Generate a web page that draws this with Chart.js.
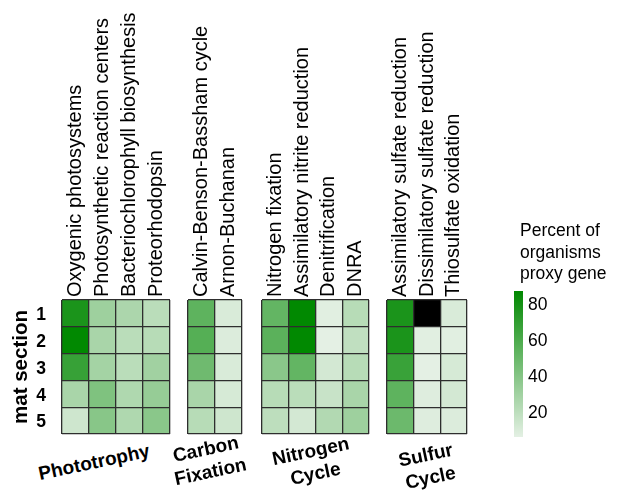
<!DOCTYPE html>
<html>
<head>
<meta charset="utf-8">
<script src="https://cdn.jsdelivr.net/npm/chart.js@4.4.0/dist/chart.umd.min.js"></script>
<style>
  body { margin: 0; background: #fff; width: 619px; height: 492px; overflow: hidden; position: relative;
         font-family: "Liberation Sans", Arial, sans-serif; }
  canvas { position: absolute; }
  .grp { position: absolute; font-weight: bold; font-size: 19px; line-height: 23px; text-align: center;
         white-space: nowrap; transform: translate(-50%, -50%) rotate(-12deg); color: #000; }
  .legend-title { position: absolute; left: 520px; top: 220px; font-size: 17.5px; line-height: 21.5px; color: #000; }
</style>
</head>
<body>
<canvas id="photo" width="172" height="436" style="left:0px;top:0px"></canvas>
<canvas id="carbon" width="58" height="436" style="left:186px;top:0px"></canvas>
<canvas id="nitrogen" width="111" height="436" style="left:260px;top:0px"></canvas>
<canvas id="sulfur" width="84" height="436" style="left:385px;top:0px"></canvas>
<canvas id="scalebar" width="100" height="166" style="left:514px;top:281px"></canvas>

<div class="grp" style="left:94px;top:462px">Phototrophy</div>
<div class="grp" style="left:208px;top:460px">Carbon<br>Fixation</div>
<div class="grp" style="left:313px;top:462px">Nitrogen<br>Cycle</div>
<div class="grp" style="left:428px;top:466px">Sulfur<br>Cycle</div>
<div class="legend-title">Percent of<br>organisms<br>proxy gene</div>

<script>
// Mat sections (rows, top to bottom)
const matSections = ['1', '2', '3', '4', '5'];

// Percent of organisms carrying each proxy gene; one row per mat section
const phototrophyGenes = ['Oxygenic photosystems', 'Photosynthetic reaction centers',
                          'Bacteriochlorophyll biosynthesis', 'Proteorhodopsin'];
const phototrophyPct = [
  [77, 30, 25, 20],
  [86, 26, 20, 21],
  [67, 28, 20, 29],
  [26, 41, 24, 33],
  [13, 38, 24, 37]
];

const carbonGenes = ['Calvin-Benson-Bassham cycle', 'Arnon-Buchanan'];
const carbonPct = [
  [53, 9],
  [56, 8],
  [47, 9],
  [26, 10],
  [21, 13]
];

const nitrogenGenes = ['Nitrogen fixation', 'Assimilatory nitrite reduction', 'Denitrification', 'DNRA'];
const nitrogenPct = [
  [51, 86, 6, 21],
  [54, 86, 5, 18],
  [37, 51, 11, 21],
  [21, 20, 15, 26],
  [19, 11, 23, 30]
];

// null = no value for that section (drawn black)
const sulfurGenes = ['Assimilatory sulfate reduction', 'Dissimilatory sulfate reduction', 'Thiosulfate oxidation'];
const sulfurPct = [
  [77, null, 9],
  [77, 6, 6],
  [66, 5, 10],
  [53, 7, 11],
  [48, 7, 8]
];

// Colour scale limits and tick marks
const scaleMin = 5;
const scaleMax = 86.5;
const scaleTicks = [20, 40, 60, 80];

const LOW = [228, 240, 228];
const HIGH = [0, 136, 0];
const FONT = '"Liberation Sans", Arial, sans-serif';
const GENE_FONT_SIZE = 20;

function colourFor(v) {
  if (v === null || v === undefined) return '#000000';
  let t = (v - scaleMin) / (scaleMax - scaleMin);
  t = Math.max(0, Math.min(1, t));
  const c = LOW.map((lo, i) => Math.round(lo + (HIGH[i] - lo) * t));
  return `rgb(${c[0]},${c[1]},${c[2]})`;
}

function makePanel(id, genes, pct, withRowAxis) {
  // each mat section is one stacked band of height 1; row 5 sits at the bottom
  const datasets = [];
  for (let r = pct.length - 1; r >= 0; r--) {
    datasets.push({
      label: 'section ' + matSections[r],
      data: genes.map(() => 1),
      backgroundColor: pct[r].map(colourFor),
      borderWidth: 0,
      barPercentage: 1,
      categoryPercentage: 1,
      yAxisID: 'y'
    });
  }
  const gridColor = '#2e2e2e';
  const scales = {
    x: {
      type: 'category',
      position: 'top',
      stacked: true,
      grid: { display: true, offset: true, color: gridColor, lineWidth: 1.3, drawTicks: false, z: 1 },
      border: { display: false },
      ticks: {
        autoSkip: false, minRotation: 90, maxRotation: 90, padding: 3,
        labelOffset: GENE_FONT_SIZE * 1.2,
        color: '#000', font: { family: FONT, size: GENE_FONT_SIZE }
      },
      afterFit: s => { s.height = 300; s.paddingLeft = 0; s.paddingRight = 0; }
    },
    y: {
      type: 'linear',
      stacked: true,
      min: 0, max: 5,
      position: 'left',
      grid: { display: true, color: gridColor, lineWidth: 1.3, drawTicks: false, z: 1 },
      border: { display: false },
      ticks: { display: false, stepSize: 1 },
      afterFit: s => { s.width = 0; s.paddingTop = 0; s.paddingBottom = 0; }
    }
  };
  if (withRowAxis) {
    scales.yl = {
      type: 'category',
      labels: matSections,
      offset: true,
      position: 'left',
      grid: { display: false, drawTicks: false },
      border: { display: false },
      ticks: { color: '#000', padding: 16, labelOffset: 2, font: { family: FONT, size: 17.5, weight: 'bold' } },
      title: {
        display: true, text: 'mat section', color: '#000',
        font: { family: FONT, size: 20.5, weight: 'bold' }, padding: { top: 9, bottom: 0 }
      },
      afterFit: s => { s.width = 62; s.paddingTop = 0; s.paddingBottom = 0; }
    };
  }
  return new Chart(document.getElementById(id), {
    type: 'bar',
    data: { labels: genes, datasets },
    options: {
      responsive: false,
      animation: false,
      events: [],
      layout: { padding: { left: withRowAxis ? 0 : 2, right: 2, top: 0, bottom: 2 } },
      plugins: { legend: { display: false }, tooltip: { enabled: false } },
      scales
    }
  });
}

makePanel('photo', phototrophyGenes, phototrophyPct, true);
makePanel('carbon', carbonGenes, carbonPct, false);
makePanel('nitrogen', nitrogenGenes, nitrogenPct, false);
makePanel('sulfur', sulfurGenes, sulfurPct, false);

// Colour bar: one floating bar spanning the scale, filled with the same colour ramp
new Chart(document.getElementById('scalebar'), {
  type: 'bar',
  data: {
    labels: [''],
    datasets: [{
      data: [[scaleMin, scaleMax]],
      barPercentage: 1,
      categoryPercentage: 1,
      borderWidth: 0,
      backgroundColor: ctx => {
        const chart = ctx.chart;
        const area = chart.chartArea;
        if (!area) return colourFor(scaleMax);
        const y = chart.scales.y;
        const g = chart.ctx.createLinearGradient(0, y.getPixelForValue(scaleMin), 0, y.getPixelForValue(scaleMax));
        for (let i = 0; i <= 10; i++) {
          g.addColorStop(i / 10, colourFor(scaleMin + (scaleMax - scaleMin) * i / 10));
        }
        return g;
      }
    }]
  },
  options: {
    responsive: false,
    animation: false,
    events: [],
    layout: { padding: { left: 0, right: 0, top: 10, bottom: 10 } },
    plugins: { legend: { display: false }, tooltip: { enabled: false } },
    scales: {
      x: { display: false },
      y: {
        position: 'right',
        min: scaleMin, max: scaleMax,
        grid: { display: false, drawTicks: false },
        border: { display: false },
        afterBuildTicks: s => { s.ticks = scaleTicks.map(v => ({ value: v })); },
        ticks: { color: '#000', padding: 5, labelOffset: 3, font: { family: FONT, size: 17.5 } },
        afterFit: s => { s.width = 91; s.paddingTop = 0; s.paddingBottom = 0; }
      }
    }
  }
});
</script>
</body>
</html>
